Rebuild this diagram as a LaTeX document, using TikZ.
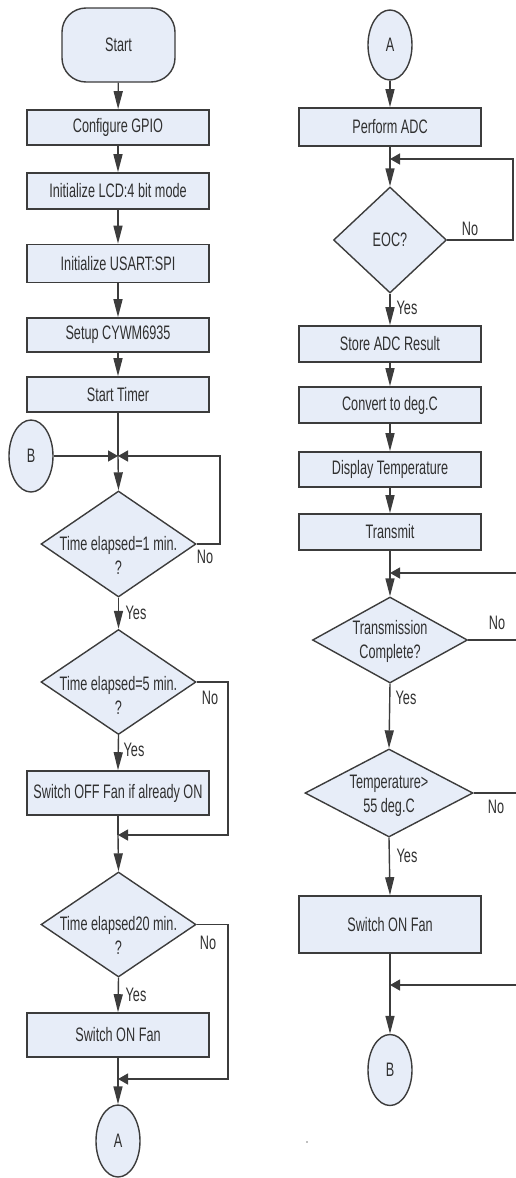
\documentclass[tikz,border=0pt]{standalone}
\usepackage{fontspec}
\newfontfamily\nf[FakeStretch=0.65]{Liberation Sans}
\usetikzlibrary{arrows.meta,shapes.geometric}
\definecolor{boxfill}{HTML}{E7EDF8}
\definecolor{edgec}{HTML}{3C3C3C}
\definecolor{txt}{HTML}{303030}
\begin{document}
\begin{tikzpicture}[x=1pt,y=-1pt,
 every node/.style={font=\nf\fontsize{19.5}{24}\selectfont, text=txt},
 procbox/.style={draw=edgec, line width=1.6pt, fill=boxfill, minimum width=182pt, inner sep=0pt},
 termbox/.style={draw=edgec, line width=1.4pt, fill=boxfill, rounded corners=24pt, minimum width=113pt, minimum height=74pt, inner sep=0pt},
 decide/.style={diamond, draw=edgec, line width=1.4pt, fill=boxfill, inner sep=0pt},
 conn/.style={ellipse, draw=edgec, line width=1.4pt, fill=boxfill, minimum width=44pt, minimum height=72pt, inner sep=0pt},
 flow/.style={draw=edgec, line width=1.4pt},
 va/.style={flow, -{Triangle[length=18pt,width=9pt]}},
 ha/.style={flow, -{Triangle[length=10pt,width=11pt]}},
 lab/.style={inner sep=0pt}
]
\useasboundingbox (0,0) rectangle (515,1178);

% ---------- left column ----------
\node[termbox] (start) at (118.5,45) {Start};
\node[procbox, minimum height=35pt] (gpio) at (118,127.5) {Configure GPIO};
\node[procbox, minimum height=36pt] (lcd) at (118,191) {Initialize LCD:4 bit mode};
\node[procbox, minimum height=38pt] (usart) at (118,263.5) {Initialize USART:SPI};
\node[procbox, minimum height=34pt] (cywm) at (118,335) {Setup CYWM6935};
\node[procbox, minimum height=35pt] (timer) at (118,394.5) {Start Timer};
\node[conn] (B1) at (31,456) {B};
\coordinate (j1) at (118,456);
\coordinate (r1) at (220,456);
\node[decide, minimum width=155pt, minimum height=106pt] (d1) at (118.5,544) {};
\node[align=center, lab] (d1t) at (118.5,555) {Time elapsed=1 min.\\?};
\node[decide, minimum width=155pt, minimum height=105pt] (d2) at (118.5,682) {};
\node[align=center, lab] (d2t) at (118.5,695) {Time elapsed=5 min.\\?};
\node[procbox, minimum height=44pt] (off) at (118,793) {Switch OFF Fan if already ON};
\coordinate (j2) at (118,835);
\coordinate (r2) at (228,835);
\node[decide, minimum width=155pt, minimum height=105pt] (d3) at (118.5,924.5) {};
\node[align=center, lab] (d3t) at (118.5,935.5) {Time elapsed20 min.\\?};
\node[procbox, minimum height=44pt] (fan1) at (118,1035) {Switch ON Fan};
\coordinate (j3) at (118,1079);
\coordinate (r3) at (228,1079);
\node[conn] (A1) at (118,1141) {A};

\draw[va] (start) -- (gpio);
\draw[va] (gpio) -- (lcd);
\draw[va] (lcd) -- (usart);
\draw[va] (usart) -- (cywm);
\draw[va] (cywm) -- (timer);
\draw[flow] (timer.south) -- (j1);
\draw[ha] (B1) -- (j1);
\draw[ha] (d1.east) -| (r1) -- (j1);
\draw[va] (j1) -- (d1.north);
\draw[va] (d1.south) -- (d2.north);
\draw[va] (d2.south) -- (off.north);
\draw[flow] (off.south) -- (j2);
\draw[ha] (d2.east) -| (r2) -- (j2);
\draw[va] (j2) -- (d3.north);
\draw[va] (d3.south) -- (fan1.north);
\draw[flow] (fan1.south) -- (j3);
\draw[ha] (d3.east) -| (r3) -- (j3);
\draw[va] (j3) -- (A1.north);

\node[lab] (n1) at (205,557) {No};
\node[lab] (y1) at (136,613) {Yes};
\node[lab] (n2) at (210,698) {No};
\node[lab] (y2) at (134,750) {Yes};
\node[lab] (n3) at (208,943) {No};
\node[lab] (y3) at (136,995) {Yes};

% ---------- right column ----------
\node[conn, minimum height=70pt] (A2) at (390,45) {A};
\node[procbox, minimum height=38pt] (adc) at (390,127) {Perform ADC};
\coordinate (j4) at (390,159);
\coordinate (r4) at (513,159);
\node[decide, minimum width=113pt, minimum height=106pt] (eoc) at (390,240) {};
\node[lab] (eoct) at (390,240) {EOC?};
\node[procbox, minimum height=36pt] (store) at (390,344) {Store ADC Result};
\node[procbox, minimum height=36pt] (conv) at (390,405) {Convert to deg.C};
\node[procbox, minimum height=35pt] (disp) at (390,469.5) {Display Temperature};
\node[procbox, minimum height=36pt] (trans) at (390,532) {Transmit};
\coordinate (j5) at (390,573);
\coordinate (e5in) at (516,573);
\node[decide, minimum width=155pt, minimum height=86pt] (d5) at (390,640) {};
\node[align=center, lab] (d5t) at (390,641) {Transmission\\Complete?};
\coordinate (e5out) at (516,640);
\node[decide, minimum width=168pt, minimum height=88pt] (d6) at (389,793) {};
\node[align=center, lab] (d6t) at (389,795.5) {Temperature>\\55 deg.C};
\coordinate (e6out) at (516,793);
\node[procbox, minimum height=57pt] (fan2) at (390,924.5) {Switch ON Fan};
\coordinate (j6) at (390,985);
\coordinate (e6in) at (516,985);
\node[conn, minimum height=71pt] (B2) at (390,1070) {B};

\draw[va] (A2) -- (adc);
\draw[flow] (adc.south) -- (j4);
\draw[ha] (eoc.east) -| (r4) -- (j4);
\draw[va] (j4) -- (eoc.north);
\draw[va] (eoc.south) -- (store.north);
\draw[va] (store) -- (conv);
\draw[va] (conv) -- (disp);
\draw[va] (disp) -- (trans);
\draw[flow] (trans.south) -- (j5);
\draw[ha] (e5in) -- (j5);
\draw[va] (j5) -- (d5.north);
\draw[flow] (d5.east) -- (e5out);
\draw[va] (d5.south) -- (d6.north);
\draw[flow] (d6.east) -- (e6out);
\draw[va] (d6.south) -- (fan2.north);
\draw[flow] (fan2.south) -- (j6);
\draw[ha] (e6in) -- (j6);
\draw[va] (j6) -- (B2.north);

\node[lab] (n4) at (470,229) {No};
\node[lab] (y4) at (407,308) {Yes};
\node[lab] (n5) at (497,623) {No};
\node[lab] (y5) at (406,698) {Yes};
\node[lab] (n6) at (496,807) {No};
\node[lab] (y6) at (407,856) {Yes};

\fill[gray] (307,1142) circle (0.9pt);
\end{tikzpicture}
\end{document}
